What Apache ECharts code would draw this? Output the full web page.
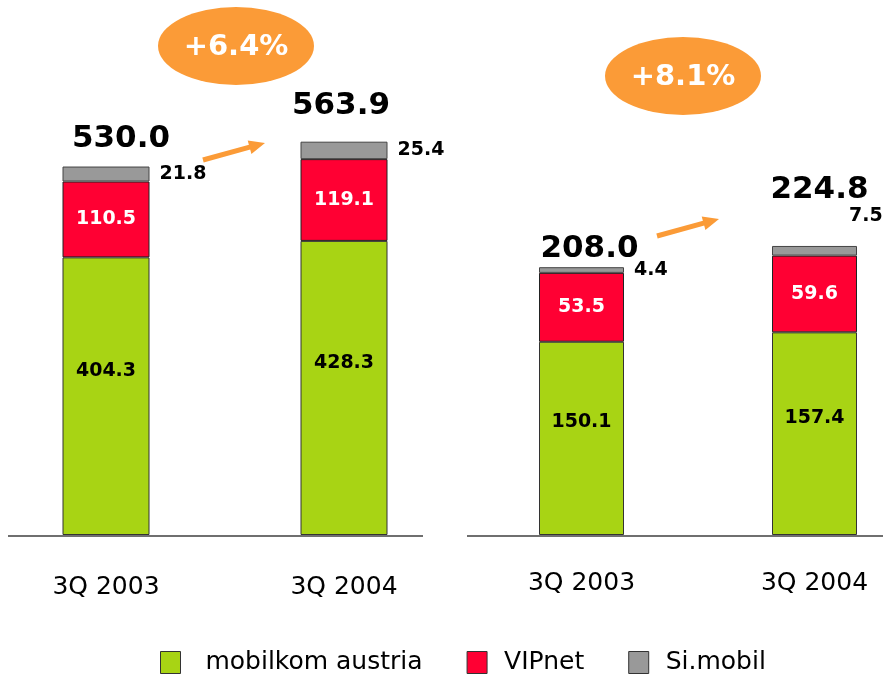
<!DOCTYPE html>
<html>
<head>
<meta charset="utf-8">
<script src="https://cdn.jsdelivr.net/npm/echarts@6.0.0/dist/echarts.min.js"></script>
<style>
  html, body { margin: 0; padding: 0; background: #fff; }
  #chart { width: 883px; height: 674px; }
</style>
</head>
<body>
<div id="chart"></div>
<script>
// quarters shown under both panels
const categories = ['3Q 2003', '3Q 2004'];
const seriesNames = ['mobilkom austria', 'VIPnet', 'Si.mobil'];

// left panel
const mobilkomLeft = [404.3, 428.3];
const vipnetLeft = [110.5, 119.1];
const simobilLeft = [21.8, 25.4];
const totalsLeft = [530.0, 563.9];

// right panel
const mobilkomRight = [150.1, 157.4];
const vipnetRight = [53.5, 59.6];
const simobilRight = [4.4, 7.5];
const totalsRight = [208.0, 224.8];

const growthLabels = ['+6.4%', '+8.1%'];

const GREEN = '#a8d414', RED = '#ff0033', GREY = '#999999', ORANGE = '#fb9b37';
const FONT = 'DejaVu Sans';

const chart = echarts.init(document.getElementById('chart'));

function stackSeries(idx, green, red, grey, barWidth, greenOffset, greyOffsets) {
    const base = {
        type: 'bar',
        xAxisIndex: idx,
        yAxisIndex: idx,
        stack: 'panel' + idx,
        barWidth: barWidth,
        emphasis: { disabled: true }
    };
    return [
        Object.assign({}, base, {
            name: seriesNames[0],
            data: green,
            itemStyle: { color: GREEN, borderColor: '#333', borderWidth: 1 },
            label: {
                show: true, position: 'inside', offset: [0, greenOffset],
                color: '#000', fontFamily: FONT, fontWeight: 'bold', fontSize: 19,
                formatter: p => p.value.toFixed(1)
            }
        }),
        Object.assign({}, base, {
            name: seriesNames[1],
            data: red,
            itemStyle: { color: RED, borderColor: '#222', borderWidth: 1 },
            label: {
                show: true, position: 'inside',
                color: '#fff', fontFamily: FONT, fontWeight: 'bold', fontSize: 19,
                formatter: p => p.value.toFixed(1)
            }
        }),
        Object.assign({}, base, {
            name: seriesNames[2],
            data: grey.map((v, i) => ({ value: v, label: { offset: greyOffsets[i] } })),
            itemStyle: { color: GREY, borderColor: '#444', borderWidth: 1 },
            label: {
                show: true, position: 'right', distance: 10,
                color: '#000', fontFamily: FONT, fontWeight: 'bold', fontSize: 19,
                formatter: p => p.value.toFixed(1)
            }
        })
    ];
}

function totalSeries(idx, totals, offsets) {
    const lbl = {
        show: true, position: 'top', distance: 0,
        color: '#000', opacity: 1, fontFamily: FONT, fontWeight: 'bold', fontSize: 31,
        formatter: p => p.value.toFixed(1)
    };
    return {
        type: 'scatter',
        name: 'total' + idx,
        xAxisIndex: idx,
        yAxisIndex: idx,
        symbolSize: 0,
        itemStyle: { color: '#000', opacity: 1 },
        emphasis: { disabled: true },
        silent: true,
        data: totals.map((v, i) => ({ value: v, label: Object.assign({}, lbl, { offset: offsets[i] }) })),
        label: lbl,
        z: 5
    };
}

function arrow(x1, y1, x2, y2) {
    const len = Math.hypot(x2 - x1, y2 - y1);
    const ux = (x2 - x1) / len, uy = (y2 - y1) / len;
    const bx = x2 - 16 * ux, by = y2 - 16 * uy;
    return [
        { type: 'line', shape: { x1: x1, y1: y1, x2: bx + 2 * ux, y2: by + 2 * uy },
          style: { stroke: ORANGE, lineWidth: 5 } },
        { type: 'polygon',
          shape: { points: [[x2, y2], [bx - 7 * uy, by + 7 * ux], [bx + 7 * uy, by - 7 * ux]] },
          style: { fill: ORANGE } }
    ];
}

function bubble(cx, cy, text) {
    return [
        { type: 'circle', x: cx, y: cy, scaleX: 2, scaleY: 1, shape: { cx: 0, cy: 0, r: 39 },
          style: { fill: ORANGE } },
        { type: 'text', x: cx, y: cy + 1,
          style: { text: text, fill: '#fff', font: 'bold 29px "DejaVu Sans"',
                   align: 'center', verticalAlign: 'middle',
                   textAlign: 'center', textVerticalAlign: 'middle' } }
    ];
}

const option = {
    animation: false,
    backgroundColor: '#fff',
    grid: [
        { left: -13, width: 476, top: 20, bottom: 139, outerBoundsMode: 'none' },
        { left: 465, width: 466, top: 20, bottom: 139, outerBoundsMode: 'none' }
    ],
    xAxis: [0, 1].map(i => ({
        type: 'category',
        gridIndex: i,
        data: categories,
        axisLine: { show: false },
        axisTick: { show: false },
        axisLabel: { color: '#000', fontFamily: FONT, fontSize: 25, margin: i === 0 ? 40 : 36 }
    })),
    yAxis: [
        { type: 'value', gridIndex: 0, min: 0, max: 750, show: false, splitLine: { show: false } },
        { type: 'value', gridIndex: 1, min: 0, max: 400, show: false, splitLine: { show: false } }
    ],
    legend: {
        data: seriesNames,
        left: 160,
        top: 650,
        padding: 0,
        icon: 'rect',
        itemWidth: 20,
        itemHeight: 22,
        itemGap: 44,
        selectedMode: false,
        formatter: name => name === seriesNames[0] ? ' ' + name : name,
        itemStyle: { borderColor: '#333', borderWidth: 1 },
        textStyle: { color: '#000', fontFamily: FONT, fontSize: 25, padding: [0, 0, 0, 12] }
    },
    series: [].concat(
        stackSeries(0, mobilkomLeft, vipnetLeft, simobilLeft, 87, -25, [[0, 0], [0, 0]]),
        stackSeries(1, mobilkomRight, vipnetRight, simobilRight, 85, -16, [[0, 0], [-18, -35]]),
        [totalSeries(0, totalsLeft, [[15, -17], [-3, -26]]),
         totalSeries(1, totalsRight, [[8, -3], [5, -40]])]
    ),
    graphic: [].concat(
        [
            { type: 'line', shape: { x1: 8, y1: 536, x2: 423, y2: 536 },
              style: { stroke: '#6f6f6f', lineWidth: 2 } },
            { type: 'line', shape: { x1: 467, y1: 536, x2: 883, y2: 536 },
              style: { stroke: '#6f6f6f', lineWidth: 2 } }
        ],
        bubble(236, 46, growthLabels[0]),
        bubble(683, 76, growthLabels[1]),
        arrow(203, 160, 265, 143),
        arrow(657, 236, 719, 219)
    )
};

chart.setOption(option);
</script>
</body>
</html>
